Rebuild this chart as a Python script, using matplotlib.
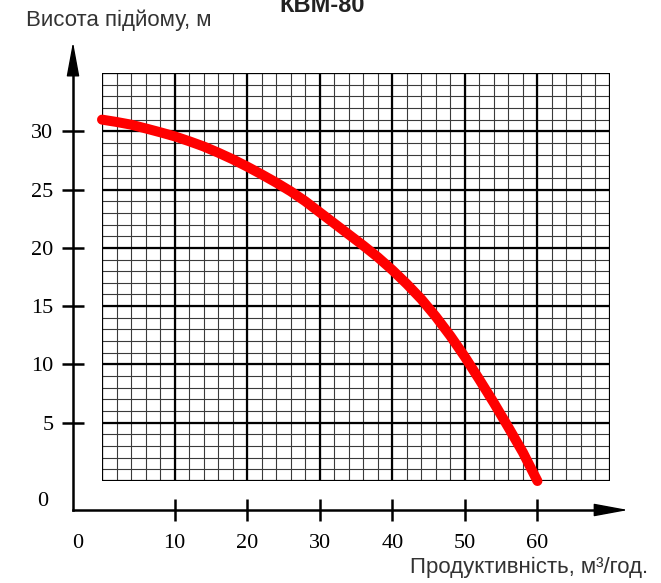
import numpy as np
import matplotlib
matplotlib.use("Agg")
import matplotlib.pyplot as plt

# ---- data ----
flow = [0, 2, 4, 6, 8, 10, 12, 14, 16, 18, 20, 22, 24, 26, 28, 30,
        32, 34, 36, 38, 40, 42, 44, 46, 48, 50, 52, 54, 56, 58, 60]
head = [31.0, 30.8, 30.57, 30.25, 29.92, 29.57, 29.15, 28.7, 28.17, 27.6,
        26.97, 26.3, 25.6, 24.85, 24.0, 23.05, 22.1, 21.15, 20.2, 19.2,
        18.1, 16.9, 15.6, 14.1, 12.45, 10.65, 8.7, 6.7, 4.6, 2.45, 0]

x_ticks = [10, 20, 30, 40, 50, 60]
y_ticks = [5, 10, 15, 20, 25, 30]
x_major_grid = np.arange(0, 71, 10)
x_minor_grid = np.arange(0, 71, 2)
y_major_grid = np.arange(0, 36, 5)
y_minor_grid = np.arange(0, 36, 1)

title = "КВМ-80"
y_label = "Висота підйому, м"
x_label = "Продуктивність, м³/год."

W, H = 661, 583
fig = plt.figure(figsize=(W / 100, H / 100), dpi=100)
fig.patch.set_facecolor("white")

ax = fig.add_axes([102 / W, (H - 481) / H, 508 / W, 408 / H])
ax.set_xlim(0, 70)
ax.set_ylim(0, 35)
ax.set_facecolor("white")

# grid
ax.vlines(x_minor_grid, 0, 35, colors="#3a3a3a", lw=0.8, zorder=1)
ax.hlines(y_minor_grid, 0, 70, colors="#3a3a3a", lw=0.8, zorder=1)
ax.vlines(x_major_grid, 0, 35, colors="black", lw=1.6, zorder=2)
ax.hlines(y_major_grid, 0, 70, colors="black", lw=1.6, zorder=2)

# curve
ax.plot(flow, head, color="#ff0000", lw=7.2, solid_capstyle="round",
        solid_joinstyle="round", zorder=5, clip_on=False)

# axes spines (offset axis lines)
for s in ["top", "right"]:
    ax.spines[s].set_visible(False)
off_pt = 29 * 72 / 100
ax.spines["left"].set_position(("outward", off_pt))
ax.spines["bottom"].set_position(("outward", off_pt))
ax.spines["left"].set_bounds(-29 / 11.657, 35.1)
ax.spines["bottom"].set_bounds(-29 / 7.257, 68.5)
for s in ["left", "bottom"]:
    ax.spines[s].set_linewidth(1.8)
    ax.spines[s].set_clip_on(False)

ax.set_xticks(x_ticks)
ax.set_xticklabels([str(v) for v in x_ticks])
ax.set_yticks(y_ticks)
ax.set_yticklabels([str(v) for v in y_ticks])
ax.tick_params(axis="both", direction="inout", width=1.8, labelsize=16,
               length=16, labelcolor="black")
ax.tick_params(axis="y", pad=6)
ax.tick_params(axis="x", pad=9)
for lab in ax.get_xticklabels() + ax.get_yticklabels():
    lab.set_fontfamily("Liberation Serif")

# arrow heads
ytr = ax.spines["left"].get_spine_transform()
xtr = ax.spines["bottom"].get_spine_transform()
ap = dict(arrowstyle="-|>,head_length=1.08,head_width=0.2", mutation_scale=20,
          color="black", lw=1, shrinkA=0, shrinkB=0)
ax.annotate("", xy=(0, 37.66), xytext=(0, 35.0), xycoords=ytr, textcoords=ytr,
            arrowprops=ap, annotation_clip=False)
ax.annotate("", xy=(72.5, 0), xytext=(68.4, 0), xycoords=xtr, textcoords=xtr,
            arrowprops=ap, annotation_clip=False)

# zero labels
ax.text(-3.3, -5.35, "0", ha="center", va="center", fontsize=16,
        fontfamily="Liberation Serif", clip_on=False)
ax.text(-8.2, -1.8, "0", ha="center", va="center", fontsize=16,
        fontfamily="Liberation Serif", clip_on=False)

# texts
fig.text(322 / W, 1 - 12 / H, title, ha="center", va="baseline", fontsize=17,
         fontweight="bold", fontfamily="Liberation Sans", color="#222222")
fig.text(26 / W, 1 - 20 / H, y_label, ha="left", va="center", fontsize=16,
         fontfamily="Liberation Sans", color="#333333")
fig.text(648 / W, 1 - 567 / H, x_label, ha="right", va="center", fontsize=16,
         fontfamily="Liberation Sans", color="#333333")

fig.savefig("out.png", dpi=100)
